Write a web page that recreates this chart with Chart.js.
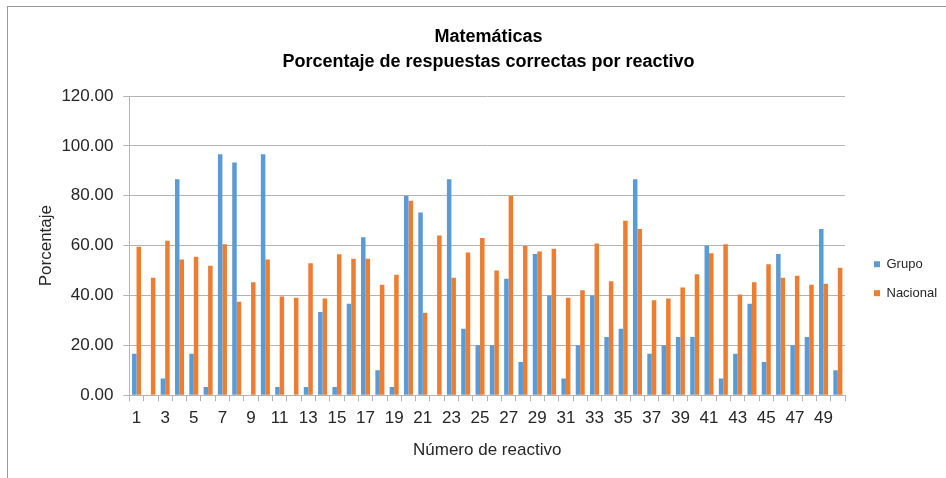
<!DOCTYPE html>
<html>
<head>
<meta charset="utf-8">
<script src="https://cdn.jsdelivr.net/npm/chart.js@4.4.1/dist/chart.umd.min.js"></script>
<style>
  body { margin: 0; background: #fff; }
  #wrap { position: relative; width: 946px; height: 478px; }
  #frame { position: absolute; left: 7px; top: 6px; right: 0; bottom: 0; border-left: 1px solid #999; border-top: 1px solid #999; }
  canvas { position: absolute; left: 0; top: 0; }
</style>
</head>
<body>
<div id="wrap">
  <div id="frame"></div>
  <canvas id="reactivo-chart" width="946" height="478"></canvas>
</div>
<script>
// numero de reactivo 1..50
var reactivos = [];
for (var i = 1; i <= 50; i++) reactivos.push(String(i));

// porcentaje grupo
var grupo = [
    16.67, 0, 6.67, 86.67, 16.67, 3.33, 96.67, 93.33, 0, 96.67,
    3.33, 0, 3.33, 33.33, 3.33, 36.67, 63.33, 10, 3.33, 80,
    73.33, 0, 86.67, 26.67, 20, 20, 46.67, 13.33, 56.67, 40,
    6.67, 20, 40, 23.33, 26.67, 86.67, 16.67, 20, 23.33, 23.33,
    60, 6.67, 16.67, 36.67, 13.33, 56.67, 20, 23.33, 66.67, 10
];

// porcentaje nacional
var nacional = [
    59.5, 47.1, 62.0, 54.4, 55.5, 51.9, 60.5, 37.5, 45.3, 54.4,
    39.6, 39.1, 52.9, 38.8, 56.5, 54.7, 54.7, 44.3, 48.3, 78.0,
    33.1, 64.1, 47.1, 57.2, 63.1, 50.0, 79.9, 59.9, 57.6, 58.7,
    39.1, 42.1, 60.9, 45.7, 70.0, 66.7, 38.1, 38.8, 43.2, 48.5,
    56.9, 60.5, 40.4, 45.3, 52.5, 47.1, 47.9, 44.3, 44.7, 51.1
];

var yTicks = [0, 20, 40, 60, 80, 100, 120];

var fontFam = "'Liberation Sans', Arial, sans-serif";
var gridColor = '#b4b4b4';

var ctx = document.getElementById("reactivo-chart").getContext('2d');
var myChart = new Chart(ctx, {
    type: 'bar',
    data: {
        labels: reactivos,
        datasets: [
            {
                label: 'Grupo',
                data: grupo,
                backgroundColor: '#5B9BD5',
                categoryPercentage: 0.63,
                barPercentage: 1.0
            },
            {
                label: 'Nacional',
                data: nacional,
                backgroundColor: '#ED7D31',
                categoryPercentage: 0.63,
                barPercentage: 1.0
            }
        ]
    },
    options: {
        responsive: false,
        animation: false,
        layout: { padding: { left: 31, right: 0, top: 0, bottom: 17 } },
        plugins: {
            title: {
                display: true,
                text: ['Matemáticas', 'Porcentaje de respuestas correctas por reactivo'],
                color: '#000',
                font: { family: fontFam, size: 18, weight: 'bold', lineHeight: 1.39 },
                padding: { top: 25, bottom: 21 }
            },
            legend: {
                position: 'right',
                maxWidth: 88,
                // blank title only pushes the keys down to the middle
                title: { display: true, text: ' ', font: { size: 12 }, padding: { top: 0, bottom: 82 } },
                labels: {
                    color: '#262626',
                    font: { family: fontFam, size: 13 },
                    boxWidth: 6,
                    boxHeight: 6,
                    padding: 16
                }
            },
            tooltip: { enabled: false }
        },
        scales: {
            x: {
                grid: {
                    offset: true,
                    drawOnChartArea: false,
                    drawTicks: true,
                    tickLength: 6,
                    color: gridColor
                },
                border: { color: gridColor },
                ticks: {
                    autoSkip: false,
                    maxRotation: 0,
                    color: '#262626',
                    font: { family: fontFam, size: 17 },
                    padding: 7,
                    callback: function (val, idx) {
                        return idx % 2 === 0 ? reactivos[idx] : '';
                    }
                },
                title: {
                    display: true,
                    text: 'Número de reactivo',
                    color: '#262626',
                    font: { family: fontFam, size: 17 },
                    padding: { top: 5, bottom: 0 }
                }
            },
            y: {
                min: 0,
                max: 120,
                grid: {
                    color: gridColor,
                    tickLength: 6
                },
                border: { color: gridColor },
                afterBuildTicks: function (axis) {
                    axis.ticks = yTicks.map(function (v) { return { value: v }; });
                },
                ticks: {
                    color: '#262626',
                    font: { family: fontFam, size: 17 },
                    padding: 10,
                    callback: function (v) { return Number(v).toFixed(2); }
                },
                title: {
                    display: true,
                    text: 'Porcentaje',
                    color: '#262626',
                    font: { family: fontFam, size: 17 },
                    padding: { top: 5, bottom: -5 }
                }
            },
            // empty axis, only keeps a gap between plot and legend
            gap: {
                type: 'linear',
                position: 'right',
                grid: { display: false },
                border: { display: false },
                ticks: { display: false },
                afterFit: function (axis) { axis.width = 13; }
            }
        }
    }
});
</script>
</body>
</html>
